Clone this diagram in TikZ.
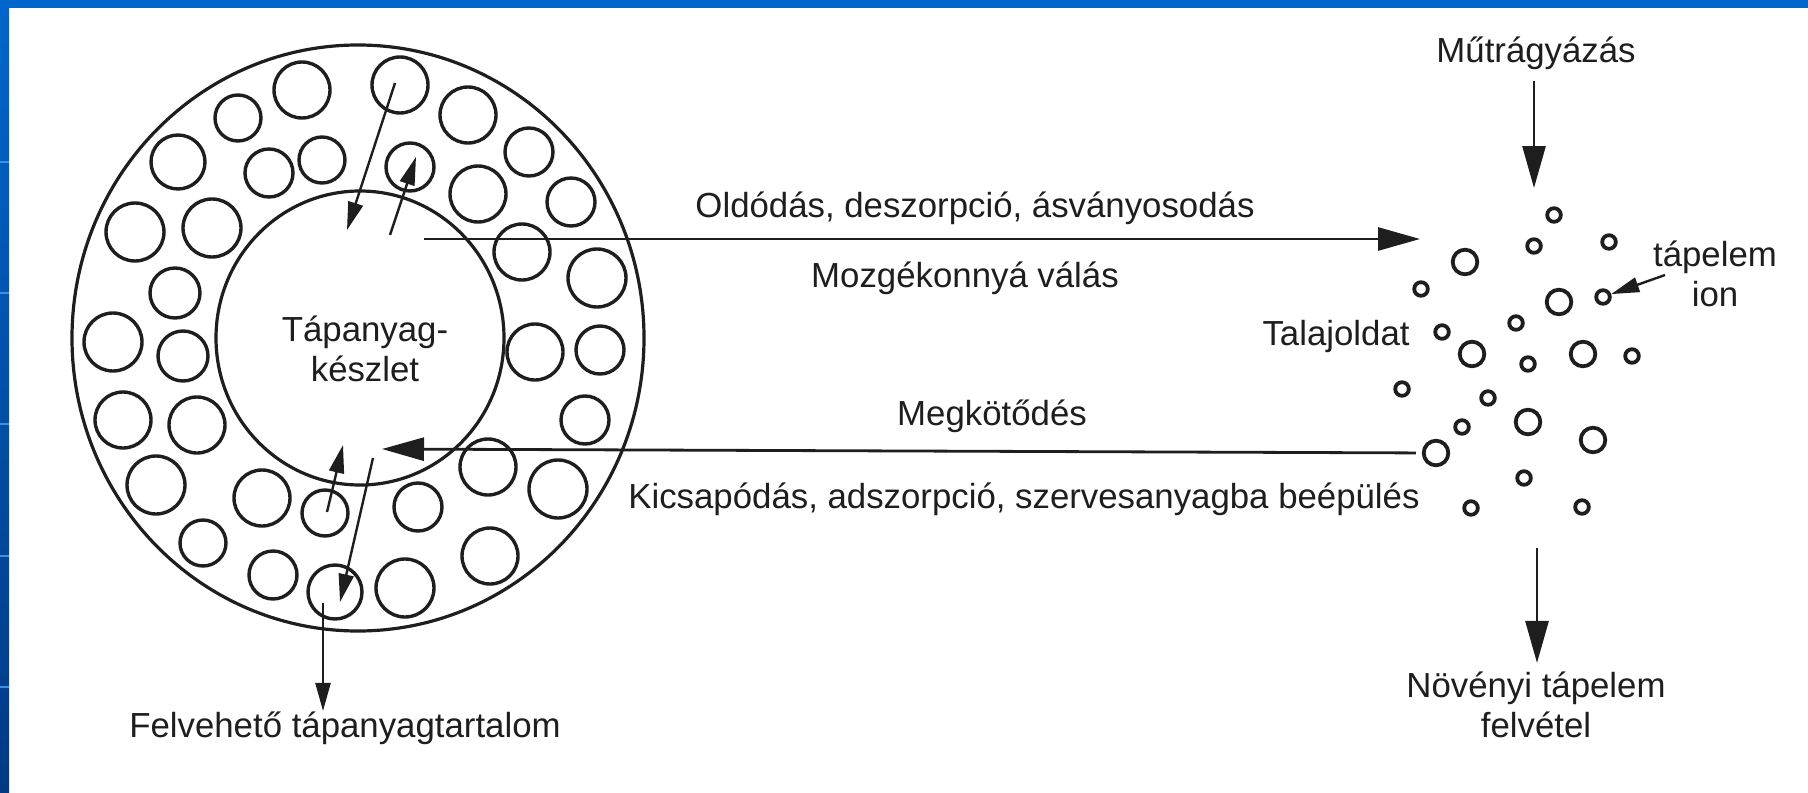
\documentclass[tikz,border=0pt]{standalone}
\usepackage{fontspec}
\setmainfont{Liberation Sans}
\usetikzlibrary{arrows.meta}
\definecolor{slideblue}{HTML}{0066CC}
\definecolor{slidenavy}{HTML}{003A85}
\definecolor{slidelight}{HTML}{3F8FE6}
\definecolor{ink}{HTML}{1E1E1E}

\begin{document}
\begin{tikzpicture}[
  x=0.5pt, y=-0.5pt,
  every node/.style={text=ink, font=\fontsize{17.4}{20}\selectfont},
  txt/.style={anchor=base, inner sep=0pt},
  ring/.style={draw=ink, line width=1.6pt},
  pore/.style={circle, draw=ink, line width=1.7pt, minimum size=#1, inner sep=0pt},
  ion/.style={circle, draw=ink, line width=1.9pt, minimum size=#1, inner sep=0pt},
  flow/.style={draw=ink, line width=1.4pt, -{Triangle[length=21pt, width=11.5pt]}},
  swap/.style={draw=ink, line width=1.2pt, -{Triangle[length=14pt, width=7.5pt]}},
]
  % slide frame
  \useasboundingbox (0,0) rectangle (1808,792);
  \fill[white] (0,0) rectangle (1808,792);
  \fill[slideblue] (0,0) rectangle (1808,8);
  \shade[top color=slideblue, bottom color=slidenavy] (0,0) rectangle (9,792);
  \foreach \yy in {162,293,424,556,687}
    \draw[slidelight, line width=1pt] (0,\yy) -- (9,\yy);

  % soil aggregate
  \draw[ring] (358,338) ellipse [x radius=143pt, y radius=146.5pt];
  \draw[ring] (360,338) ellipse [x radius=72pt, y radius=73.5pt];
  \foreach \n/\px/\py/\r in {
      1/302/90/28, 2/400/85/28, 3/238/118/23, 4/468/115/28, 5/178/162/27,
      6/269/173/24, 7/322/160/23, 8/410/167/24, 9/529/152/24, 10/478/194/28,
      11/571/202/24, 12/135/232/29, 13/212/228/29, 14/522/252/28, 15/175/293/25,
      16/597/278/29, 17/535/352/28, 18/600/350/24, 19/113/342/29, 20/183/356/25,
      21/123/420/28, 22/197/425/28, 23/156/485/29, 24/262/498/28, 25/325/513/23,
      26/418/507/24, 27/488/467/28, 28/558/489/29, 29/585/420/24, 30/203/543/23,
      31/273/575/24, 32/335/592/27, 33/405/588/29, 34/490/556/28}
    \node[pore=\r pt] (p\n) at (\px,\py) {};
  \node[txt, align=center] (pool) at (365,381) {Tápanyag-\\készlet};

  % exchange between pool and pores
  \coordinate (exTopS) at (395,83);   \coordinate (exTopE) at (347,230);
  \coordinate (reTopS) at (390,235);  \coordinate (reTopE) at (416,157);
  \coordinate (reBotS) at (327,512);  \coordinate (reBotE) at (343,445);
  \coordinate (exBotS) at (373,458);  \coordinate (exBotE) at (340,602);
  \coordinate (poreOut) at (323,603);
  \draw[swap] (exTopS) -- (exTopE);
  \draw[swap] (reTopS) -- (reTopE);
  \draw[swap] (reBotS) -- (reBotE);
  \draw[swap] (exBotS) -- (exBotE);
  \node[txt] (felv) at (345,737) {Felvehető tápanyagtartalom};
  \draw[swap] (poreOut) -- (poreOut |- felv.north);

  % soil solution
  \foreach \n/\px/\py/\s in {
      1/1554/215/6.8, 2/1534/246/6.8, 3/1609/242/6.8, 4/1465/262/12.3,
      5/1421/289/6.8, 6/1559/302/12.3, 7/1603/297/6.8, 8/1516/323/6.8,
      9/1442/332/6.8, 10/1472/354/12.3, 11/1528/364/6.8, 12/1583/354/12.3,
      13/1632/356/6.8, 14/1402/389/6.8, 15/1488/398/6.8, 16/1528/422/12.3,
      17/1462/427/6.8, 18/1593/440/12.3, 19/1436/453/12.3, 20/1524/478/6.8,
      21/1471/508/6.8, 22/1582/507/6.8}
    \node[ion=\s pt] (i\n) at (\px,\py) {};
  \node[txt] (soilsol) at (1336,345) {Talajoldat};
  \node[txt, align=center] (ionlabel) at (1715,306) {tápelem\\ion};
  \coordinate (ionFoot) at (1665,275);
  \draw[swap] (ionFoot) -- (i7);

  % mobilisation and fixation
  \coordinate (mobS) at (424,239);
  \coordinate (mobE) at (1420,239);
  \coordinate (fixE) at (382,449);
  \draw[flow] (mobS) -- (mobE);
  \draw[flow, shorten <=3pt] (i19) -- (fixE);
  \node[txt] (dissol) at (975,217) {Oldódás, deszorpció, ásványosodás};
  \node[txt] (mobil) at (965,287) {Mozgékonnyá válás};
  \node[txt] (fixat) at (992,425) {Megkötődés};
  \node[txt] (precip) at (1024,508) {Kicsapódás, adszorpció, szervesanyagba beépülés};

  % input and uptake
  \node[txt] (mutr) at (1536,63) {Műtrágyázás};
  \coordinate (fertTip) at (1534,188);
  \draw[flow, shorten <=5pt] (mutr.south -| fertTip) -- (fertTip);
  \coordinate (uptS) at (1537,548);
  \node[txt, align=center, inner sep=4pt] (uptake) at (1536,737) {Növényi tápelem\\felvétel};
  \draw[flow] (uptS) -- (uptS |- uptake.north);
\end{tikzpicture}
\end{document}
